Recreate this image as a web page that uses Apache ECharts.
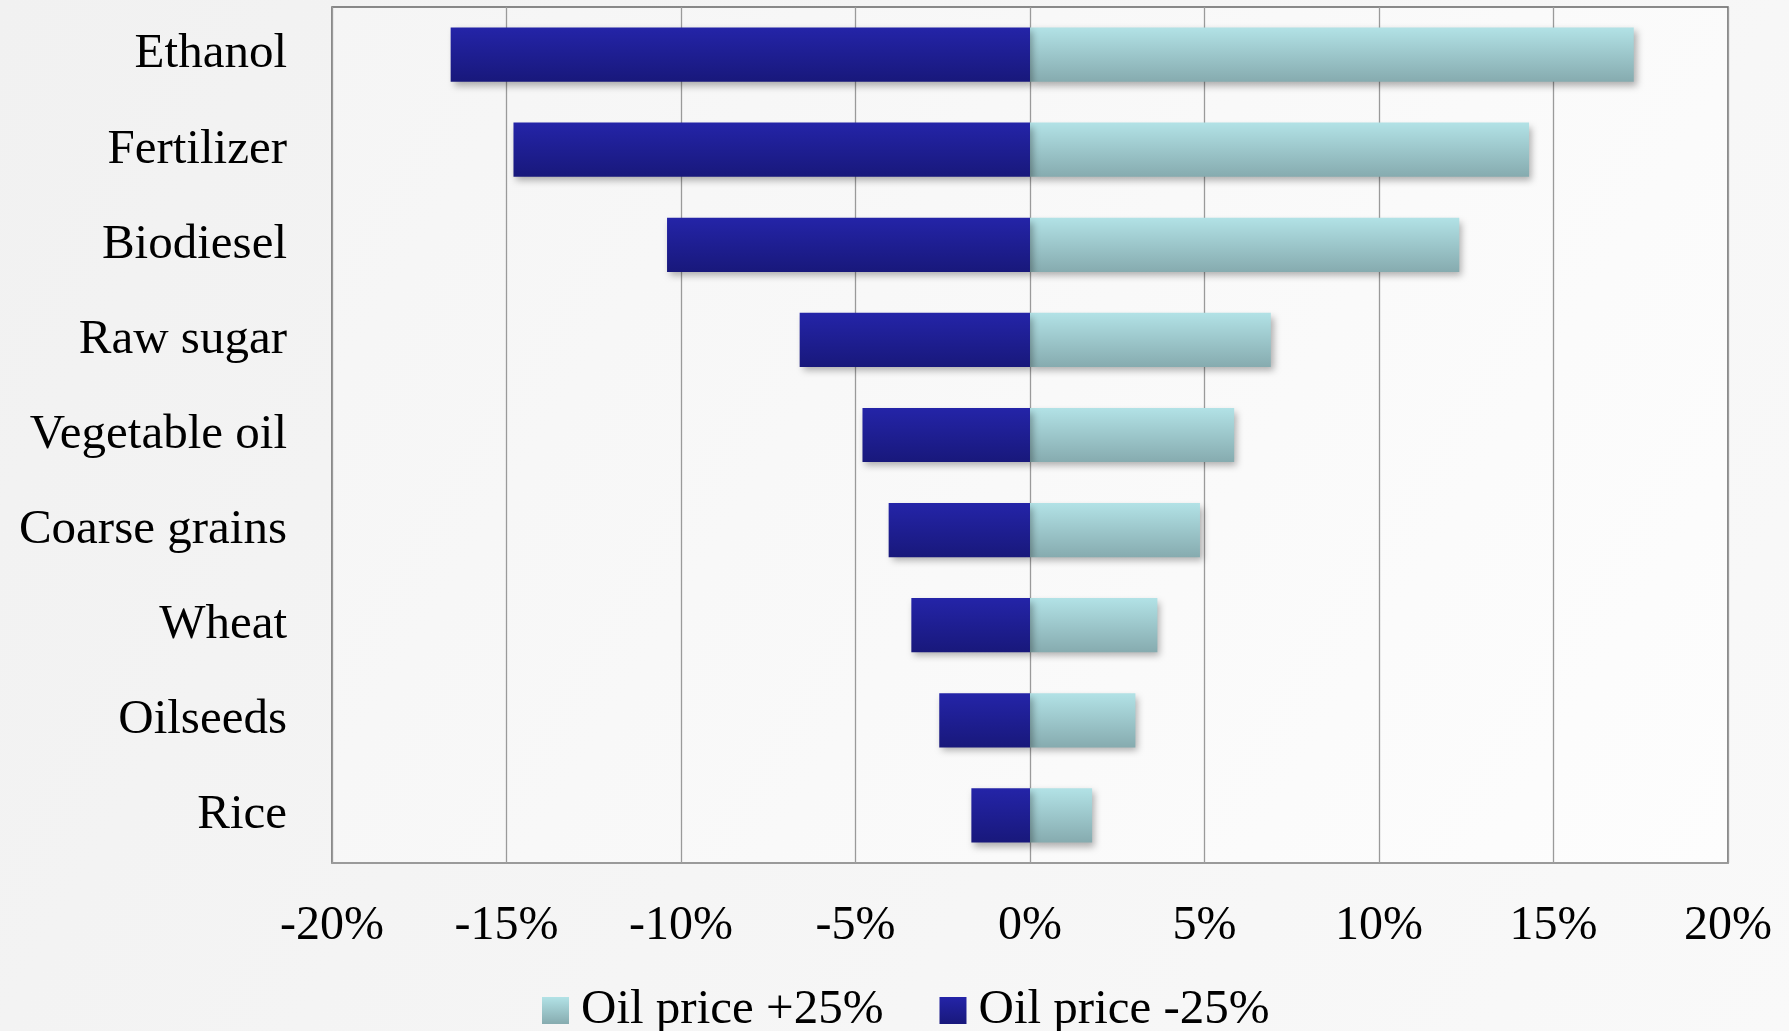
<!DOCTYPE html>
<html>
<head>
<meta charset="utf-8">
<script src="https://cdn.jsdelivr.net/npm/echarts@6/dist/echarts.min.js"></script>
<style>
html,body{margin:0;padding:0;width:1789px;height:1031px;overflow:hidden;background:#f3f3f3;}
#chart{width:1789px;height:1031px;}
</style>
</head>
<body>
<div id="chart"></div>
<script>
const categories = ['Ethanol','Fertilizer','Biodiesel','Raw sugar','Vegetable oil','Coarse grains','Wheat','Oilseeds','Rice'];
const oilUp = [17.3, 14.3, 12.3, 6.9, 5.85, 4.87, 3.65, 3.02, 1.78];
const oilDown = [-16.6, -14.8, -10.4, -6.6, -4.8, -4.05, -3.4, -2.6, -1.68];
const seriesNames = ['Oil price +25%', 'Oil price -25%'];
const xMin = -20, xMax = 20, xStep = 5;

const FONT = 'Liberation Serif';
const grad = (a, b) => new echarts.graphic.LinearGradient(0, 0, 0, 1, [{offset: 0, color: a}, {offset: 1, color: b}]);
const tealGrad = grad('#b2e2e6', '#86abaf');
const blueGrad = grad('#2424a8', '#18187b');

const chart = echarts.init(document.getElementById('chart'), null, {renderer: 'canvas'});
chart.setOption({
  animation: false,
  backgroundColor: new echarts.graphic.LinearGradient(0, 0, 1, 1, [{offset: 0, color: '#f1f1f1'}, {offset: 1, color: '#f9f9f9'}]),
  textStyle: {fontFamily: FONT},
  grid: {
    left: 332, right: 61, top: 7, bottom: 168,
    show: true,
    borderColor: '#646464', borderWidth: 1.5,
    backgroundColor: new echarts.graphic.LinearGradient(0, 0, 1, 1, [{offset: 0, color: '#f5f5f5'}, {offset: 1, color: '#fdfdfd'}])
  },
  legend: {
    data: seriesNames,
    left: 537, top: 981,
    itemWidth: 27, itemHeight: 27, itemGap: 56,
    textStyle: {fontFamily: FONT, fontSize: 49, color: '#000', padding: [0, 0, 0, 7]},
    icon: 'rect'
  },
  xAxis: {
    type: 'value', min: xMin, max: xMax, interval: xStep,
    axisLine: {show: true, lineStyle: {color: '#a0a0a0', width: 1.5}},
    axisTick: {show: false},
    splitLine: {show: true, lineStyle: {color: '#9a9a9a', width: 1.3}},
    axisLabel: {formatter: v => v + '%', fontFamily: FONT, fontSize: 48, color: '#000', margin: 39}
  },
  yAxis: {
    type: 'category', data: categories, inverse: true,
    axisLine: {show: false}, axisTick: {show: false},
    axisLabel: {fontFamily: FONT, fontSize: 49, color: '#000', margin: 45, padding: [4, 0, 0, 0]}
  },
  series: [
    {
      name: seriesNames[0], type: 'bar', data: oilUp,
      barGap: '-100%', barCategoryGap: '43%',
      itemStyle: {color: tealGrad, shadowBlur: 7, shadowOffsetX: 3, shadowOffsetY: 4, shadowColor: 'rgba(0,0,0,0.3)'}
    },
    {
      name: seriesNames[1], type: 'bar', data: oilDown,
      barGap: '-100%', barCategoryGap: '43%',
      itemStyle: {color: blueGrad, shadowBlur: 7, shadowOffsetX: 3, shadowOffsetY: 4, shadowColor: 'rgba(0,0,0,0.3)'}
    }
  ]
});
</script>
</body>
</html>
